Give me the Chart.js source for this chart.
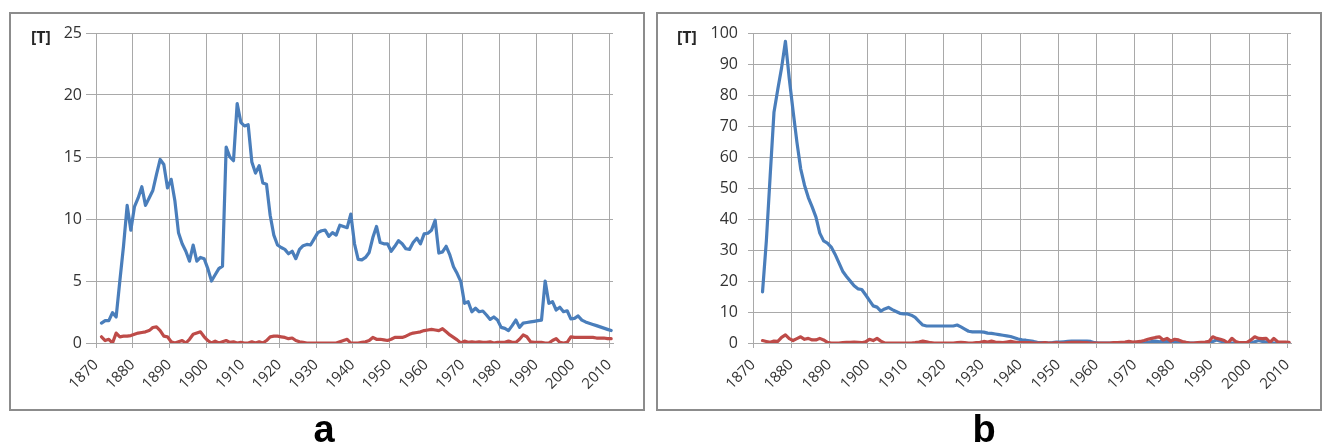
<!DOCTYPE html>
<html lang="en">
<head>
<meta charset="UTF-8">
<title>Panels a and b</title>
<script src="https://cdn.jsdelivr.net/npm/chart.js"></script>
<style>
body {
    margin: 0;
    width: 1322px;
    height: 444px;
    background: #fff;
    position: relative;
    overflow: hidden;
    font-family: 'Open Sans', sans-serif;
}
.panel {
    position: absolute;
    top: 12px;
    height: 399px;
    box-sizing: border-box;
    border: 2px solid #8c8c8c;
}
#panelA { left: 9px; width: 636px; }
#panelB { left: 656px; width: 666px; }
.panel canvas { position: absolute; left: 0; top: 0; }
.unit {
    position: absolute;
    top: 26px;
    font-weight: bold;
    font-size: 16px;
    color: #262626;
}
.letter {
    position: absolute;
    top: 410px;
    width: 60px;
    text-align: center;
    font: bold 38px/38px 'Liberation Sans', Arial, sans-serif;
    color: #000;
}
</style>
</head>
<body>
<div class="panel" id="panelA"><canvas id="chartA" width="632" height="395"></canvas></div>
<div class="panel" id="panelB"><canvas id="chartB" width="662" height="395"></canvas></div>
<div class="unit" style="left:31px">[T]</div>
<div class="unit" style="left:677px">[T]</div>
<div class="letter" style="left:294px">a</div>
<div class="letter" style="left:954px">b</div>

<script>
// decade labels on the x axis
const decades = [1870, 1880, 1890, 1900, 1910, 1920, 1930, 1940, 1950, 1960, 1970, 1980, 1990, 2000, 2010];

// panel a: yearly values 1871-2010
const startA = 1871;
const blueA = [
    1.6, 1.8, 1.8, 2.45, 2.1, 5.0, 7.8, 11.1, 9.1, 11.0,
    11.7, 12.6, 11.1, 11.7, 12.3, 13.6, 14.8, 14.4, 12.5, 13.2,
    11.5, 8.9, 8.0, 7.4, 6.6, 7.9, 6.6, 6.9, 6.8, 6.0,
    5.0, 5.5, 6.0, 6.2, 15.8, 15.0, 14.7, 19.3, 17.8, 17.5,
    17.6, 14.6, 13.7, 14.3, 12.9, 12.8, 10.3, 8.7, 7.9, 7.7,
    7.55, 7.2, 7.4, 6.8, 7.55, 7.85, 7.95, 7.9, 8.4, 8.9,
    9.05, 9.1, 8.6, 8.9, 8.7, 9.5, 9.4, 9.3, 10.4, 8.0,
    6.75, 6.7, 6.9, 7.3, 8.5, 9.4, 8.1, 8.0, 8.0, 7.4,
    7.8, 8.25, 8.0, 7.6, 7.55, 8.1, 8.45, 8.0, 8.8, 8.85,
    9.1, 9.9, 7.25, 7.35, 7.8, 7.1, 6.15, 5.6, 4.95, 3.2,
    3.33, 2.52, 2.8, 2.52, 2.58, 2.26, 1.9, 2.1, 1.85, 1.26,
    1.18, 1.0, 1.4, 1.85, 1.26, 1.6, 1.65, 1.7, 1.75, 1.8,
    1.85, 5.0, 3.2, 3.33, 2.66, 2.88, 2.52, 2.6, 1.95, 1.99,
    2.18, 1.85, 1.7, 1.6, 1.5, 1.4, 1.3, 1.2, 1.1, 1.0
];
const redA = [
    0.5, 0.2, 0.3, 0.0, 0.8, 0.5, 0.55, 0.55, 0.6, 0.7,
    0.8, 0.85, 0.9, 1.0, 1.25, 1.3, 1.0, 0.55, 0.5, 0.1,
    0.0, 0.1, 0.2, 0.0, 0.3, 0.7, 0.8, 0.9, 0.5, 0.2,
    0.0, 0.15, 0.0, 0.1, 0.2, 0.05, 0.1, 0.0, 0.05, 0.0,
    0.0, 0.1, 0.0, 0.1, 0.0, 0.2, 0.5, 0.55, 0.55, 0.5,
    0.45, 0.35, 0.4, 0.2, 0.1, 0.05, 0.0, 0.0, 0.0, 0.0,
    0.0, 0.0, 0.0, 0.0, 0.0, 0.1, 0.2, 0.3, 0.0, 0.0,
    0.0, 0.05, 0.1, 0.2, 0.45, 0.3, 0.3, 0.25, 0.2, 0.3,
    0.45, 0.45, 0.45, 0.55, 0.7, 0.8, 0.85, 0.9, 1.0, 1.05,
    1.1, 1.05, 1.0, 1.15, 0.9, 0.65, 0.45, 0.25, 0.0, 0.15,
    0.05, 0.1, 0.05, 0.1, 0.05, 0.05, 0.1, 0.0, 0.05, 0.05,
    0.05, 0.15, 0.05, 0.05, 0.3, 0.65, 0.5, 0.1, 0.05, 0.05,
    0.05, 0.0, 0.0, 0.2, 0.35, 0.05, 0.0, 0.05, 0.5, 0.45,
    0.45, 0.45, 0.45, 0.45, 0.45, 0.4, 0.4, 0.4, 0.35, 0.35
];

// panel b: yearly values 1872-2010
const startB = 1872;
const blueB = [
    16.5, 33, 54, 74.6, 82, 89, 97.5, 85.5, 75,
    65, 56.3, 51, 47, 44, 40.7, 35.5, 33, 32.3, 31,
    28.7, 26, 23.2, 21.5, 20, 18.5, 17.5, 17.3, 15.6, 13.8,
    12, 11.6, 10.3, 11, 11.5, 10.8, 10.2, 9.6, 9.4, 9.4,
    9.0, 8.3, 7.0, 5.8, 5.5, 5.5, 5.5, 5.5, 5.5, 5.5,
    5.5, 5.5, 5.8, 5.2, 4.5, 3.8, 3.6, 3.6, 3.6, 3.5,
    3.2, 3.1, 2.9, 2.7, 2.5, 2.3, 2.1, 1.7, 1.3, 1.0,
    0.9, 0.7, 0.5, 0.2, 0.1, 0.1, 0.0, 0.1, 0.3, 0.3,
    0.4, 0.5, 0.6, 0.6, 0.6, 0.6, 0.6, 0.5, 0.1, 0.0,
    0, 0, 0, 0, 0, 0, 0, 0, 0, 0,
    0, 0, 0.2, 0.5, 0.6, 0.4, 0.6, 0.5, 0.6, 0.5,
    0.3, 0.2, 0.1, 0, 0, 0, 0, 0, 0.1, 0.5,
    1.0, 0.6, 0.3, 0, 0, 0, 0, 0, 0, 0,
    0.4, 0.8, 0.5, 0.3, 0.1, 0, 0, 0, 0, 0
];
const redB = [
    0.8, 0.5, 0.2, 0.6, 0.5, 1.8, 2.6, 1.4, 0.8,
    1.4, 2.0, 1.2, 1.5, 1.0, 1.0, 1.5, 1.0, 0.2, 0.0,
    0.0, 0.0, 0.1, 0.2, 0.2, 0.3, 0.2, 0.1, 0.4, 1.2,
    0.8, 1.5, 0.6, 0.0, 0.0, 0.0, 0.0, 0.0, 0.0, 0.0,
    0.0, 0.1, 0.3, 0.6, 0.4, 0.1, 0.0, 0.0, 0.0, 0.0,
    0.0, 0.0, 0.1, 0.2, 0.1, 0.0, 0.0, 0.1, 0.2, 0.5,
    0.3, 0.6, 0.3, 0.2, 0.1, 0.3, 0.5, 0.3, 0.1, 0.1,
    0.1, 0.1, 0.0, 0.0, 0.0, 0.1, 0.0, 0.0, 0.1, 0.0,
    0.0, 0.1, 0.2, 0.2, 0.2, 0.1, 0.1, 0.0, 0.0, 0.0,
    0.0, 0.0, 0.0, 0.1, 0.1, 0.2, 0.3, 0.5, 0.3, 0.4,
    0.5, 0.8, 1.2, 1.5, 1.8, 2.0, 1.0, 1.5, 0.6, 1.2,
    1.0, 0.5, 0.2, 0.0, 0.0, 0.1, 0.2, 0.3, 0.5, 2.0,
    1.5, 1.2, 0.8, 0.0, 1.5, 0.5, 0.1, 0.1, 0.2, 1.0,
    2.0, 1.5, 1.4, 1.5, 0.2, 1.5, 0.4, 0.3, 0.3, 0.2
];

const blue = '#4a7ebb';
const red = '#be4b48';
const gridColor = '#a9a9a9';
const tickColor = '#333333';

Chart.defaults.font.family = "'Open Sans', sans-serif";
Chart.defaults.animation = false;

// each year is drawn at the middle of its slot, like the category axis of the original
function points(start, values) {
    return values.map((v, i) => ({ x: start + i + 0.5, y: v }));
}

function makeChart(id, start, blueVals, redVals, yMax, yStep, axisWidth, padRight, yTickLen, yPad) {
    return new Chart(document.getElementById(id), {
        type: 'line',
        data: {
            datasets: [
                { data: points(start, redVals), borderColor: red, borderWidth: 3.2 },
                { data: points(start, blueVals), borderColor: blue, borderWidth: 3.2 }
            ]
        },
        options: {
            responsive: false,
            elements: {
                point: { radius: 0 },
                line: { tension: 0, borderJoinStyle: 'round', borderCapStyle: 'round' }
            },
            layout: { padding: { left: 0, top: 19, right: padRight, bottom: 0 } },
            plugins: { legend: { display: false }, tooltip: { enabled: false } },
            scales: {
                x: {
                    type: 'linear',
                    min: 1870,
                    max: 2011,
                    afterBuildTicks: s => { s.ticks = decades.map(v => ({ value: v })); },
                    afterFit: s => { s.height = 66; },
                    grid: { color: gridColor, lineWidth: 1, tickLength: 5 },
                    border: { color: gridColor },
                    ticks: {
                        autoSkip: false,
                        minRotation: 45,
                        maxRotation: 45,
                        padding: 8,
                        color: tickColor,
                        font: { size: 15 },
                        callback: v => String(v)
                    }
                },
                y: {
                    min: 0,
                    max: yMax,
                    afterFit: s => { s.width = axisWidth; },
                    grid: { color: gridColor, lineWidth: 1, tickLength: yTickLen },
                    border: { color: gridColor },
                    ticks: { stepSize: yStep, padding: yPad, color: tickColor, font: { size: 16 } }
                }
            }
        }
    });
}

makeChart('chartA', startA, blueA, redA, 25, 5, 85, 30, 10, 4);
makeChart('chartB', startB, blueB, redB, 100, 10, 95, 29, 5, 10);
</script>
</body>
</html>
